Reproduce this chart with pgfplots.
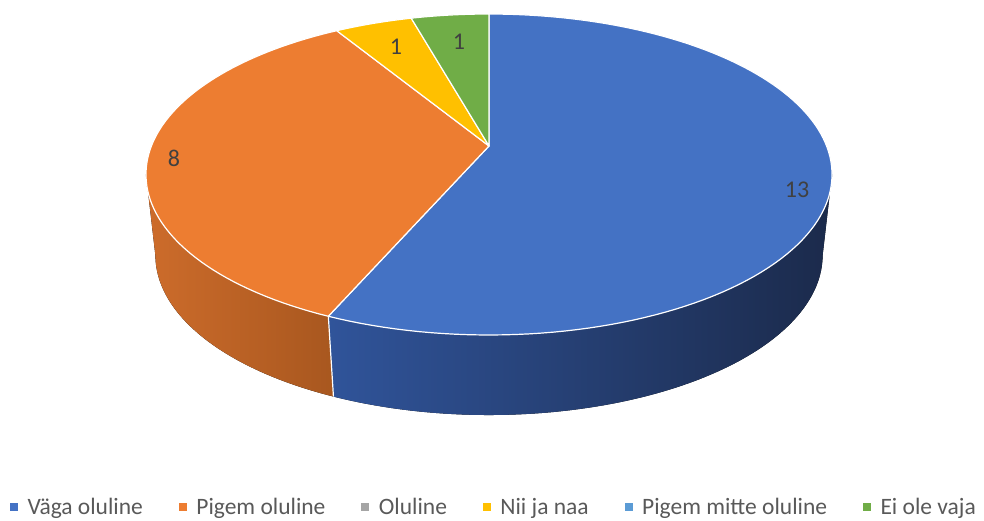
\documentclass[border=0pt]{standalone}
\usepackage{fontspec}
\setmainfont{Carlito}
\usepackage{pgfplots}
\usepackage{pgfplotstable}
\pgfplotsset{compat=1.18}
\usepgfplotslibrary{fillbetween}
\definecolor{cBlue}{HTML}{4472C4}
\definecolor{cOrange}{HTML}{ED7D31}
\definecolor{cGray}{HTML}{A5A5A5}
\definecolor{cYellow}{HTML}{FFC000}
\definecolor{cLBlue}{HTML}{5B9BD5}
\definecolor{cGreen}{HTML}{70AD47}
\definecolor{sBlueL}{HTML}{30549A}
\definecolor{sBlueM}{HTML}{1F3159}
\definecolor{sBlueR}{HTML}{1B2A4B}
\definecolor{sOrL}{HTML}{CD6C2B}
\definecolor{sOrR}{HTML}{A8571F}
\definecolor{labc}{HTML}{404040}
\definecolor{legc}{HTML}{595959}

\pgfplotstableread{
idx value
0 13
1 8
2 0
3 1
4 0
5 1
}\piedata
\pgfplotstablegetelem{0}{value}\of\piedata \let\vA\pgfplotsretval
\pgfplotstablegetelem{1}{value}\of\piedata \let\vB\pgfplotsretval
\pgfplotstablegetelem{2}{value}\of\piedata \let\vC\pgfplotsretval
\pgfplotstablegetelem{3}{value}\of\piedata \let\vD\pgfplotsretval
\pgfplotstablegetelem{4}{value}\of\piedata \let\vE\pgfplotsretval
\pgfplotstablegetelem{5}{value}\of\piedata \let\vF\pgfplotsretval
\pgfmathsetmacro\tot{\vA+\vB+\vC+\vD+\vE+\vF}
\pgfmathsetmacro\aA{90}
\pgfmathsetmacro\aB{\aA-360*\vA/\tot}
\pgfmathsetmacro\aC{\aB-360*\vB/\tot}
\pgfmathsetmacro\aD{\aC-360*\vC/\tot}
\pgfmathsetmacro\aE{\aD-360*\vD/\tot}
\pgfmathsetmacro\aF{\aE-360*\vE/\tot}
\pgfmathsetmacro\aG{\aF-360*\vF/\tot}

\begin{document}
\begin{tikzpicture}
\begin{axis}[
  scale only axis, width=984pt, height=521pt,
  xmin=0, xmax=984, ymin=-521, ymax=0,
  hide axis, clip=false,
  declare function={
    tw(\t)=1+0.1776*sin(\t);
    tx(\t)=489+337.6*cos(\t)/tw(\t);
    ty(\t)=(129.5*sin(\t)-146)/tw(\t);
    bw(\t)=1.0274+0.1776*sin(\t);
    bx(\t)=489+337.6*cos(\t)/bw(\t);
    by(\t)=(119*sin(\t)-233.7)/bw(\t);
  },
  legend style={at={(axis cs:494,-507)}, anchor=center, draw=none, fill=none,
    legend columns=-1, font=\fontsize{23.5}{28}\selectfont, text=legc,
    /tikz/every even column/.append style={column sep=34pt},
    /tikz/every odd column/.append style={column sep=8pt}},
  legend cell align=left,
]
% ---- sides ----
\addplot[draw=none, name path=topO, forget plot, domain=-169.9:\aB, samples=60, variable=\t] ({tx(\t)},{ty(\t)});
\addplot[draw=none, name path=botO, forget plot, domain=-169.9:\aB, samples=60, variable=\t] ({bx(\t)},{by(\t)});
\addplot[left color=sOrL, right color=sOrR, draw=none, forget plot] fill between[of=topO and botO];
\addplot[draw=none, name path=topB, forget plot, domain=\aB:-10.1, samples=80, variable=\t] ({tx(\t)},{ty(\t)});
\addplot[draw=none, name path=botB, forget plot, domain=\aB:-10.1, samples=80, variable=\t] ({bx(\t)},{by(\t)});
\addplot[left color=sBlueL, middle color=sBlueM, right color=sBlueR, draw=none, forget plot] fill between[of=topB and botB];
\addplot[white, line width=1.2pt, forget plot, domain=0:1, samples=2] ({tx(\aB)*(1-x)+bx(\aB)*x},{ty(\aB)*(1-x)+by(\aB)*x});
% ---- top slices ----
\addplot[fill=cBlue, draw=white, line width=1.2pt, line join=round, forget plot, domain=\aB:\aA, samples=120, variable=\t] ({tx(\t)},{ty(\t)}) -- (489,-146) -- cycle;
\addplot[fill=cOrange, draw=white, line width=1.2pt, line join=round, forget plot, domain=\aC:\aB, samples=80, variable=\t] ({tx(\t)},{ty(\t)}) -- (489,-146) -- cycle;
\addplot[fill=cYellow, draw=white, line width=1.2pt, line join=round, forget plot, domain=\aE:\aD, samples=20, variable=\t] ({tx(\t)},{ty(\t)}) -- (489,-146) -- cycle;
\addplot[fill=cGreen, draw=white, line width=1.2pt, line join=round, forget plot, domain=\aG:\aF, samples=20, variable=\t] ({tx(\t)},{ty(\t)}) -- (489,-146) -- cycle;
% ---- labels ----
\node[font=\fontsize{24}{28}\selectfont, text=labc] at (axis cs:797,-190) {\vA};
\node[font=\fontsize{24}{28}\selectfont, text=labc] at (axis cs:174,-158) {\vB};
\node[font=\fontsize{24}{28}\selectfont, text=labc] at (axis cs:396,-47) {\vD};
\node[font=\fontsize{24}{28}\selectfont, text=labc] at (axis cs:459,-42) {\vF};
% ---- legend ----
\addlegendimage{legend image code/.code={\fill[cBlue] (0pt,-3.5pt) rectangle (7pt,3.5pt);}}
\addlegendentry{Väga oluline}
\addlegendimage{legend image code/.code={\fill[cOrange] (0pt,-3.5pt) rectangle (7pt,3.5pt);}}
\addlegendentry{Pigem oluline}
\addlegendimage{legend image code/.code={\fill[cGray] (0pt,-3.5pt) rectangle (7pt,3.5pt);}}
\addlegendentry{Oluline}
\addlegendimage{legend image code/.code={\fill[cYellow] (0pt,-3.5pt) rectangle (7pt,3.5pt);}}
\addlegendentry{Nii ja naa}
\addlegendimage{legend image code/.code={\fill[cLBlue] (0pt,-3.5pt) rectangle (7pt,3.5pt);}}
\addlegendentry{Pigem mitte oluline}
\addlegendimage{legend image code/.code={\fill[cGreen] (0pt,-3.5pt) rectangle (7pt,3.5pt);}}
\addlegendentry{Ei ole vaja}
\end{axis}
\pgfresetboundingbox
\useasboundingbox (current axis.south west) rectangle (current axis.north east);
\end{tikzpicture}
\end{document}
